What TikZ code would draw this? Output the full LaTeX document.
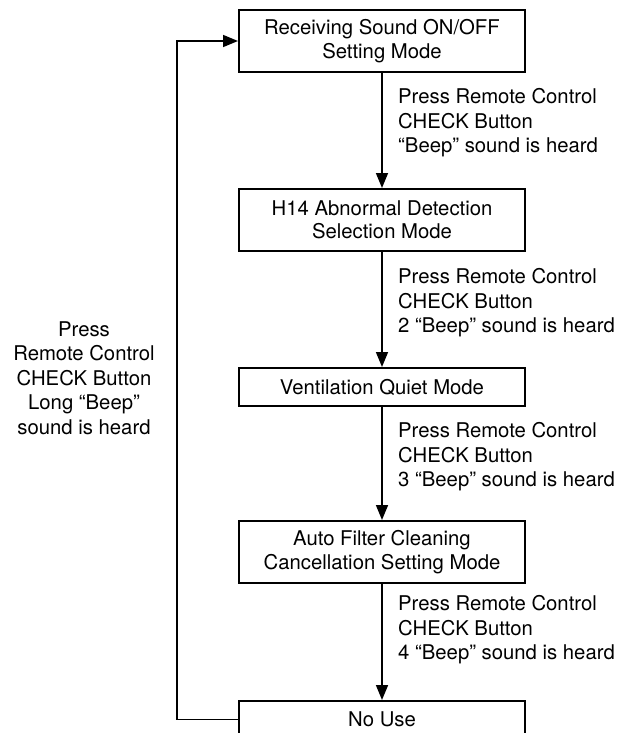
\documentclass[tikz,border=0pt]{standalone}
\usepackage{fontspec}
\setmainfont{TeX Gyre Heros}
\usetikzlibrary{arrows.meta}

\begin{document}
\begin{tikzpicture}[x=1pt, y=-1pt,
    mode/.style={draw, line width=2pt, minimum width=286pt, minimum height=62pt,
        inner sep=0pt, align=center, font=\fontsize{20.3}{23.5}\selectfont},
    note/.style={anchor=west, inner sep=0pt, align=left, font=\fontsize{20.3}{24.5}\selectfont},
    flow/.style={line width=1.6pt, -{Triangle[length=15pt, width=12pt]}}]
    \useasboundingbox (0,0) rectangle (617,733);
    \clip (0,0) rectangle (617,733);

    % setting modes, top to bottom
    \node[mode] (sound) at (382,41) {Receiving Sound ON/OFF\\Setting Mode};
    \node[mode] (h14) at (382,220) {H14 Abnormal Detection\\Selection Mode};
    \node[mode, minimum height=38pt] (quiet) at (382,387) {Ventilation Quiet Mode};
    \node[mode] (filter) at (382,552) {Auto Filter Cleaning\\Cancellation Setting Mode};
    \node[mode, minimum height=37pt] (nouse) at (382,719.5) {No Use};

    % short press between modes
    \draw[flow] (sound) -- (h14);
    \draw[flow] (h14) -- (quiet);
    \draw[flow] (quiet) -- (filter);
    \draw[flow] (filter) -- (nouse);
    \node[note] (beep1) at (398,123) {Press Remote Control\\CHECK Button\\“Beep” sound is heard};
    \node[note] (beep2) at (398,303) {Press Remote Control\\CHECK Button\\2 “Beep” sound is heard};
    \node[note] (beep3) at (398,457) {Press Remote Control\\CHECK Button\\3 “Beep” sound is heard};
    \node[note] (beep4) at (398,630) {Press Remote Control\\CHECK Button\\4 “Beep” sound is heard};

    % long press back to the top
    \coordinate (looptop) at (177,41);
    \draw[flow] (nouse.west) -| (looptop) -- (sound.west);
    \node[align=center, inner sep=0pt, font=\fontsize{20.3}{24.5}\selectfont] (longbeep) at (84,378)
        {Press\\Remote Control\\CHECK Button\\Long “Beep”\\sound is heard};
\end{tikzpicture}
\end{document}
